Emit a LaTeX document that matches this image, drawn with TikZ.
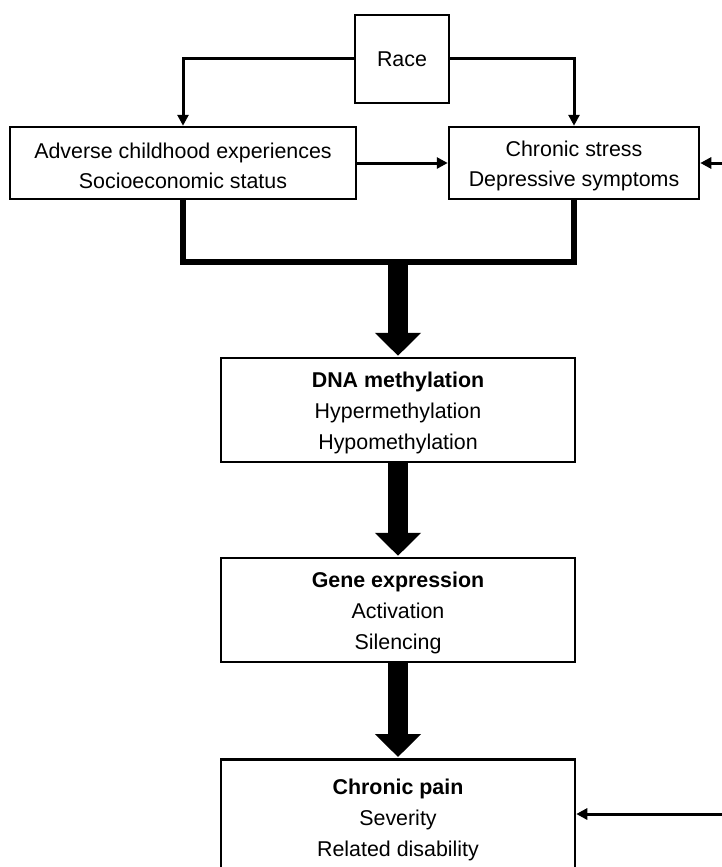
\documentclass[tikz,border=0pt]{standalone}
\usepackage{fontspec}
\setmainfont{Liberation Sans}
\usetikzlibrary{arrows.meta}
\newcommand{\topstrut}{\rule{0pt}{21.5pt}}
\begin{document}
\begin{tikzpicture}[x=1pt,y=-1pt,
  txt/.style={inner sep=0pt, align=center, font=\fontsize{21.4}{30.7}\selectfont},
  box/.style={txt, draw, line width=2.5pt},
  conn/.style={line width=3pt, -{Triangle[length=11pt,width=11pt]}},
  bracket/.style={line width=6pt, line join=miter},
  bigarrow/.style={line width=20pt, -{Triangle[length=23pt,width=45pt]}, shorten >=1pt}]
\useasboundingbox (0,0) rectangle (722,867);
\clip (0,0) rectangle (722,867);

\node[box, minimum width=94, minimum height=88] (race) at (402,59) {Race};
\node[box, minimum width=346, minimum height=72] (ace) at (183,163) {\topstrut Adverse childhood experiences\\Socioeconomic status};
\node[box, minimum width=250, minimum height=72] (cs) at (574,163) {\topstrut Chronic stress\\Depressive symptoms};
\node[box, minimum width=354, minimum height=104] (dna) at (398,410) {\topstrut\textbf{DNA methylation}\\Hypermethylation\\Hypomethylation};
\node[box, minimum width=354, minimum height=104] (gene) at (398,610) {\topstrut\textbf{Gene expression}\\Activation\\Silencing};
\node[box, minimum width=354, minimum height=140, anchor=north] (pain) at (398,758) {};
\node[txt] (paintext) at (398,820) {\textbf{Chronic pain}\\Severity\\Related disability};

\draw[conn] (race.west) -| (ace.north);
\draw[conn] (race.east) -| (cs.north);
\draw[conn] (ace.east) -- (cs.west);
\coordinate (in1) at (722,163);
\draw[conn] (in1) -- (cs.east);

\coordinate (j) at (398,262);
\draw[bracket] (ace.south) -- (ace.south |- j) -- (cs.south |- j) -- (cs.south);
\draw[bigarrow] (j) -- (dna.north);
\draw[bigarrow] (dna.south) -- (gene.north);
\draw[bigarrow] (gene.south) -- (pain.north);

\coordinate (in2) at (722,814);
\draw[conn] (in2) -- (in2 -| pain.east);
\end{tikzpicture}
\end{document}
